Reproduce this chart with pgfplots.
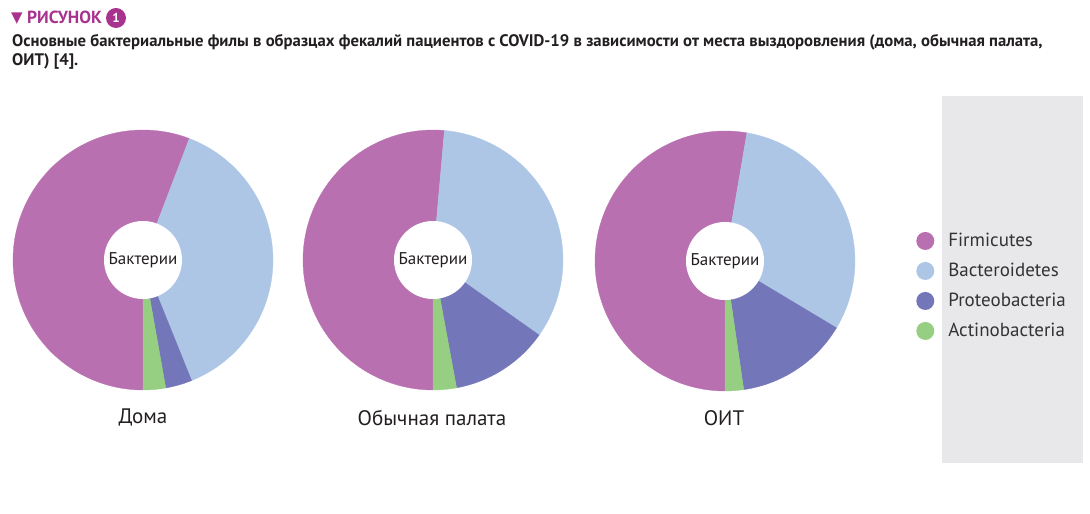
\documentclass[border=0pt]{standalone}
\usepackage{fontspec}
\setmainfont{PT Sans}
\newfontfamily\symfont{DejaVu Sans}
\usepackage{pgfplots}
\usepackage{pgfplotstable}
\pgfplotsset{compat=1.18}

\definecolor{cF}{HTML}{B970B0}
\definecolor{cB}{HTML}{AEC6E6}
\definecolor{cP}{HTML}{7376B8}
\definecolor{cA}{HTML}{96CE82}
\definecolor{mag}{HTML}{A8338F}
\definecolor{txt}{HTML}{231F20}
\definecolor{legtxt}{HTML}{333333}
\definecolor{boxgrey}{HTML}{E8E8EA}

\pgfplotstableread{
phylum home ward icu
Firmicutes 55.8 51.4 52.7
Bacteroidetes 38.1 33.4 30.9
Proteobacteria 3.3 12.3 14.1
Actinobacteria 2.8 2.9 2.3
}\datatable

\newcommand\getpie[1]{%
  \pgfplotstablegetelem{0}{#1}\of\datatable \pgfmathsetmacro\va{\pgfplotsretval}%
  \pgfplotstablegetelem{1}{#1}\of\datatable \pgfmathsetmacro\vb{\pgfplotsretval}%
  \pgfplotstablegetelem{2}{#1}\of\datatable \pgfmathsetmacro\vc{\pgfplotsretval}%
  \pgfplotstablegetelem{3}{#1}\of\datatable \pgfmathsetmacro\vd{\pgfplotsretval}%
  \pgfmathsetmacro\tot{\va+\vb+\vc+\vd}%
  \pgfmathsetmacro\aA{270}%
  \pgfmathsetmacro\aB{270-360*(\va/\tot)}%
  \pgfmathsetmacro\aC{\aB-360*(\vb/\tot)}%
  \pgfmathsetmacro\aD{\aC-360*(\vc/\tot)}%
  \pgfmathsetmacro\aE{-90}%
}

\newcommand\drawpie{%
  \addplot[fill=cF, draw=cF, line width=0.3pt, domain=\aB:\aA, samples=120] ({cos(x)},{sin(x)}) -- (0,0) -- cycle;
  \addplot[fill=cB, draw=cB, line width=0.3pt, domain=\aC:\aB, samples=120] ({cos(x)},{sin(x)}) -- (0,0) -- cycle;
  \addplot[fill=cP, draw=cP, line width=0.3pt, domain=\aD:\aC, samples=60] ({cos(x)},{sin(x)}) -- (0,0) -- cycle;
  \addplot[fill=cA, draw=cA, line width=0.3pt, domain=\aE:\aD, samples=30] ({cos(x)},{sin(x)}) -- (0,0) -- cycle;
  \node[circle, fill=white, minimum size=78pt, inner sep=0pt, text=txt,
        font=\fontsize{17}{17}\selectfont] at (0,0) {Бактерии};
}

\pgfplotsset{
  pieaxis/.style={
    hide axis, scale only axis, width=260pt, height=260pt,
    xmin=-1, xmax=1, ymin=-1, ymax=1, clip=false, anchor=center,
  }
}

\begin{document}
\begin{tikzpicture}[x=1pt,y=1pt]
\useasboundingbox (0,0) rectangle (1090,514);
% legend box
\fill[boxgrey] (942,51) rectangle (1083,418);

% title
\node[anchor=base west, inner sep=0pt, text=mag, font=\symfont\fontsize{15}{15}\selectfont] at (11,491) {▼};
\node[anchor=base west, inner sep=0pt, text=mag, font=\bfseries\fontsize{17.5}{17.5}\selectfont] at (27,490) {РИСУНОК};
\node[circle, fill=mag, minimum size=20pt, inner sep=0pt, text=white, font=\bfseries\fontsize{13}{13}\selectfont] at (116,496) {1};
\node[anchor=base west, inner sep=0pt, text=txt, font=\bfseries\fontsize{16.7}{16.7}\selectfont] at (12,467) {Основные бактериальные филы в образцах фекалий пациентов с COVID-19 в зависимости от места выздоровления (дома, обычная палата,};
\node[anchor=base west, inner sep=0pt, text=txt, font=\bfseries\fontsize{16.7}{16.7}\selectfont] at (12,448) {ОИТ) [4].};

% pies
\getpie{home}
\begin{axis}[pieaxis, at={(143pt,254pt)}]
\drawpie
\end{axis}

\getpie{ward}
\begin{axis}[pieaxis, at={(433pt,254pt)}]
\drawpie
\end{axis}

\getpie{icu}
\begin{axis}[pieaxis, at={(725pt,253pt)},
  legend style={at={(1.235,0.404)}, anchor=west, draw=none, fill=none,
    font=\fontsize{19}{19}\selectfont, text=legtxt, inner sep=0pt,
    nodes={inner sep=0pt, minimum height=30pt}, row sep=0pt},
  legend cell align=left,
  legend image code/.code={\path[draw=none] (9pt,0pt) circle (9pt);
                           \path[fill=none, draw=none] (0pt,0pt) rectangle (32pt,0.1pt);},
]
\drawpie
\legend{Firmicutes, Bacteroidetes, Proteobacteria, Actinobacteria}
\end{axis}

% labels
\node[text=txt, font=\fontsize{21}{21}\selectfont] at (143,96) {Дома};
\node[text=txt, font=\fontsize{21}{21}\selectfont] at (432,96) {Обычная палата};
\node[text=txt, font=\fontsize{21}{21}\selectfont] at (724,96) {ОИТ};
\end{tikzpicture}
\end{document}
